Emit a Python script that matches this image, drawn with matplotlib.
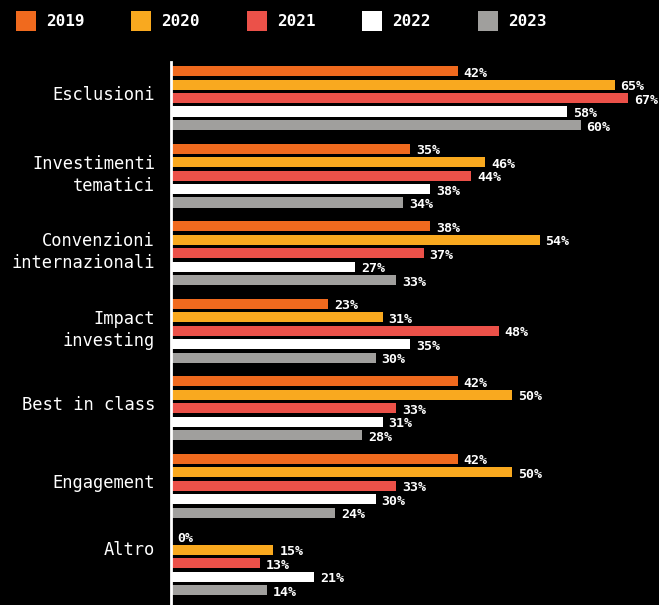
import matplotlib.pyplot as plt
from matplotlib.patches import Patch
import matplotlib.transforms as mtransforms
import numpy as np

categories = ['Esclusioni', 'Investimenti\ntematici', 'Convenzioni\ninternazionali',
              'Impact\ninvesting', 'Best in class', 'Engagement', 'Altro']
years = ['2019', '2020', '2021', '2022', '2023']
v2019 = [42, 35, 38, 23, 42, 42, 0]
v2020 = [65, 46, 54, 31, 50, 50, 15]
v2021 = [67, 44, 37, 48, 33, 33, 13]
v2022 = [58, 38, 27, 35, 31, 30, 21]
v2023 = [60, 34, 33, 30, 28, 24, 14]
colors = ['#F06A1E', '#F9A91F', '#EB5149', '#FFFFFF', '#A09F9D']

series = [v2019, v2020, v2021, v2022, v2023]

plt.rcParams['font.family'] = ['DejaVu Sans Mono', 'DejaVu Sans']

fig = plt.figure(figsize=(6.59, 6.05), dpi=100, facecolor='black')
ax = fig.add_axes([171 / 659, 0, 1 - 171 / 659, (605 - 62) / 605])
ax.set_facecolor('black')

y = np.arange(len(categories))
pitch = 0.174
height = 0.13
for i, (vals, col) in enumerate(zip(series, colors)):
    pos = y + (i - 2) * pitch
    ax.barh(pos, vals, height=height, color=col, label=years[i])
    for p, v in zip(pos, vals):
        ax.annotate(f'{v}%', (v, p), xytext=(4.3, -1.5), textcoords='offset points',
                    ha='left', va='center', color='white', fontsize=9.5,
                    fontweight='bold')

ax.set_xlim(0, 71.5)
ax.set_ylim(6.54, -0.465)
ax.set_yticks(y)
ax.set_yticklabels(categories, color='white', fontsize=12.3, linespacing=1.3,
                   multialignment='right')
ax.tick_params(axis='y', length=0, pad=11.5)
# nudge category labels up a little (Altro sits higher in the original)
for lbl in ax.get_yticklabels():
    up = 11 if lbl.get_text() == 'Altro' else 3.5
    shift = mtransforms.ScaledTranslation(0, up / 72, fig.dpi_scale_trans)
    lbl.set_transform(lbl.get_transform() + shift)
ax.set_xticks([])
for s in ['top', 'right', 'bottom']:
    ax.spines[s].set_visible(False)
ax.spines['left'].set_color('white')
ax.spines['left'].set_linewidth(2)

handles = [Patch(facecolor=c, edgecolor='none', label=yr) for c, yr in zip(colors, years)]
leg = fig.legend(handles=handles, loc='upper left', bbox_to_anchor=(16 / 659, 1 - 11 / 605),
                 ncol=5, frameon=False, fontsize=11.5, handlelength=1.25,
                 handleheight=1.55, handletextpad=0.62, columnspacing=2.95,
                 borderaxespad=0, borderpad=0)
for t in leg.get_texts():
    t.set_color('white')
    t.set_fontweight('bold')

fig.savefig('out.png', dpi=100, facecolor='black')
